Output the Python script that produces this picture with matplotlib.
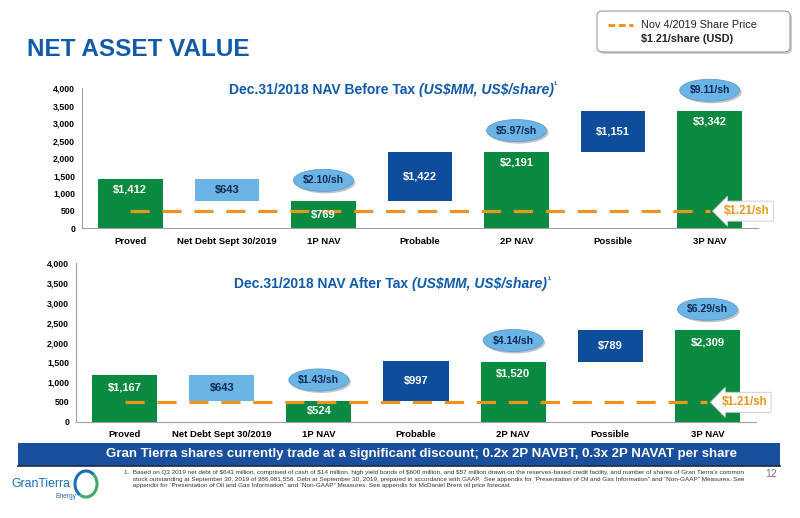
import numpy as np
import matplotlib.pyplot as plt
from matplotlib.patches import FancyBboxPatch, Ellipse, Rectangle, Arc
from matplotlib.lines import Line2D

plt.rcParams['font.family'] = ['Liberation Sans', 'DejaVu Sans']

# waterfall data (US$MM)
categories = ["Proved", "Net Debt Sept 30/2019", "1P NAV", "Probable", "2P NAV", "Possible", "3P NAV"]
kinds = ["total", "debt", "total", "add", "total", "add", "total"]
nav_before_tax = [1412, 643, 769, 1422, 2191, 1151, 3342]
nav_after_tax = [1167, 643, 524, 997, 1520, 789, 2309]
per_share_before = [None, None, 2.10, None, 5.97, None, 9.11]
per_share_after = [None, None, 1.43, None, 4.14, None, 6.29]
share_price = 1.21
share_price_level = 490   # where the price line sits on the US$MM axis
yticks = [0, 500, 1000, 1500, 2000, 2500, 3000, 3500, 4000]

GREEN = "#098A40"
DARK_BLUE = "#0E4D9C"
LIGHT_BLUE = "#6CB4E6"
ORANGE = "#E8961E"
TITLE_BLUE = "#0F5AAB"
NAVY = "#0B2A55"
colors = {"total": GREEN, "debt": LIGHT_BLUE, "add": DARK_BLUE}

fig = plt.figure(figsize=(8, 5.18), dpi=100)


def waterfall(ax, values, per_share, title_main):
    x = np.arange(len(values))
    bottoms = []
    level = 0
    for v, k in zip(values, kinds):
        if k == "total":
            bottoms.append(0)
            level = v
        elif k == "debt":
            level -= v
            bottoms.append(level)
        else:
            bottoms.append(level)
            level += v
    ax.bar(x, values, bottom=bottoms, width=0.67,
           color=[colors[k] for k in kinds], zorder=2)
    ax.set_xlim(-0.5, 6.5)
    ax.set_ylim(0, 4000)
    ax.set_yticks(yticks)
    ax.set_yticklabels([f"{t:,}" for t in yticks], fontsize=6.3, fontweight='bold')
    ax.set_xticks(x)
    ax.set_xticklabels(categories, fontsize=6.8, fontweight='bold')
    ax.tick_params(length=0, pad=5)
    ax.tick_params(axis='x', pad=6)
    for s in ["top", "right"]:
        ax.spines[s].set_visible(False)
    for s in ["left", "bottom"]:
        ax.spines[s].set_color("#A0A0A0")

    # pixel -> data conversion
    pos = ax.get_position()
    px_x = pos.width * fig.get_figwidth() * fig.dpi / 7.0
    px_y = pos.height * fig.get_figheight() * fig.dpi / 4000.0

    for xi, v, b, k in zip(x, values, bottoms, kinds):
        top = b + v
        if k == "total" and v > 1000:
            ty = top - 300
        else:
            ty = b + v / 2
        tc = NAVY if k == "debt" else "white"
        ax.text(xi, ty, f"${v:,}", ha='center', va='center', color=tc,
                fontsize=8, fontweight='bold', zorder=4, parse_math=False)

    for xi, v, b, ps in zip(x, values, bottoms, per_share):
        if ps is None:
            continue
        cy = b + v + 21 / px_y
        ax.add_patch(Ellipse((xi + 2 / px_x, cy - 2 / px_y), 60 / px_x, 22 / px_y,
                             fc="#9A9A9A", ec='none', alpha=0.6, zorder=3, clip_on=False))
        ax.add_patch(Ellipse((xi, cy), 60 / px_x, 22 / px_y, fc=LIGHT_BLUE,
                             ec="#5A9FD0", lw=0.6, zorder=4, clip_on=False))
        ax.text(xi, cy, f"${ps:.2f}/sh", ha='center', va='center', color=NAVY,
                fontsize=7.5, fontweight='bold', zorder=5, clip_on=False, parse_math=False)

    # share price line with callout arrow
    ax.plot([0, 6], [share_price_level, share_price_level], color=ORANGE, lw=2.3,
            linestyle=(0, (6, 4)), zorder=3)
    ax.text(6 + 14 / px_x, share_price_level, f"${share_price:.2f}/sh", ha='left', va='center',
            color=ORANGE, fontsize=8.3, fontweight='bold', zorder=6, clip_on=False, parse_math=False,
            bbox=dict(boxstyle="larrow,pad=0.35", fc='white', ec="#C8C8C8", lw=0.6))

    t1 = ax.text(0.5, 0.0, title_main, transform=ax.transAxes, ha='left', va='center',
                 color=TITLE_BLUE, fontsize=10, fontweight='bold')
    t2 = ax.annotate("(US$MM, US$/share)", xy=(1, 0.5), xycoords=t1, ha='left', va='center',
                     color=TITLE_BLUE, fontsize=10, fontweight='bold', fontstyle='italic',
                     parse_math=False)
    ax.annotate("\u00b9", xy=(1, 0.75), xycoords=t2, ha='left', va='center',
                color=TITLE_BLUE, fontsize=6.5, fontweight='bold')
    return t1


ax1 = fig.add_axes([0.1025, 0.5593, 0.845, 0.2703])
t = waterfall(ax1, nav_before_tax, per_share_before, "Dec.31/2018 NAV Before Tax ")
t.set_position((0.217, 0.99))

ax2 = fig.add_axes([0.095, 0.1859, 0.85, 0.3058])
t = waterfall(ax2, nav_after_tax, per_share_after, "Dec.31/2018 NAV After Tax ")
t.set_position((0.233, 0.87))

# page title
fig.text(27 / 800, 1 - 50 / 518, "NET ASSET VALUE", ha='left', va='center',
         color=TITLE_BLUE, fontsize=17.5, fontweight='bold')

# legend box
fig.patches.append(FancyBboxPatch((599 / 800, 1 - 54 / 518), 193 / 800, 41 / 518,
                                  boxstyle="round,pad=0,rounding_size=0.008",
                                  transform=fig.transFigure, fc="#B0B0B0", ec='none', alpha=0.6))
fig.patches.append(FancyBboxPatch((597 / 800, 1 - 52 / 518), 193 / 800, 41 / 518,
                                  boxstyle="round,pad=0,rounding_size=0.008",
                                  transform=fig.transFigure, fc='white', ec="#8C8C8C", lw=0.7))
fig.lines.append(Line2D([608 / 800, 633 / 800], [1 - 25 / 518, 1 - 25 / 518],
                        transform=fig.transFigure, color=ORANGE, lw=2.2, linestyle=(0, (2.2, 1.2))))
fig.text(641 / 800, 1 - 25 / 518, "Nov 4/2019 Share Price", ha='left', va='center',
         fontsize=7.8, color="#222222")
fig.text(641 / 800, 1 - 38.5 / 518, f"${share_price:.2f}/share (USD)", ha='left', va='center',
         fontsize=7.8, fontweight='bold', color="#222222", parse_math=False)

# banner
fig.patches.append(Rectangle((18 / 800, 1 - 466 / 518), 762 / 800, 23 / 518,
                             transform=fig.transFigure, fc="#1A4F9E", ec='none'))
fig.lines.append(Line2D([18 / 800, 780 / 800], [1 - 466 / 518, 1 - 466 / 518],
                        transform=fig.transFigure, color="#1C2A44", lw=1.2))
fig.text(421 / 800, 1 - 454 / 518,
         "Gran Tierra shares currently trade at a significant discount; 0.2x 2P NAVBT, 0.3x 2P NAVAT per share",
         ha='center', va='center', color='white', fontsize=9.5, fontweight='bold')

# footnote
footnote = ("1.  Based on Q3 2019 net debt of $643 million, comprised of cash of $14 million, high yield bonds of $600 million, "
            "and $57 million drawn on the reserves-based credit facility, and number of shares of Gran Tierra\u2019s common\n"
            "     stock outstanding at September 30, 2019 of 386,981,556. Debt at September 30, 2019, prepared in accordance with GAAP.  "
            "See appendix for \u201cPresentation of Oil and Gas Information\u201d and \u201cNon-GAAP\u201d Measures. See\n"
            "     appendix for \u201cPresentation of Oil and Gas Information\u201d and \u201cNon-GAAP\u201d Measures. "
            "See appendix for McDaniel Brent oil price forecast.")
fig.text(124 / 800, 1 - 470 / 518, footnote, ha='left', va='top', fontsize=4.6,
         color="#333333", linespacing=1.4, parse_math=False)
fig.text(771 / 800, 1 - 474 / 518, "12", ha='center', va='center', fontsize=7.5, color="#777777")

# logo
fig.text(11 / 800, 1 - 484 / 518, "GranTierra", ha='left', va='center', fontsize=8.8,
         color="#1B6FB5")
fig.text(55 / 800, 1 - 496 / 518, "Energy", ha='left', va='center', fontsize=4.8, color="#1B6FB5")
cx, cy = 86 / 800, 1 - 484 / 518
fig.patches.append(Arc((cx, cy), 22 / 800, 26 / 518, theta1=60, theta2=250,
                       transform=fig.transFigure, color="#1B6FB5", lw=2.2))
fig.patches.append(Arc((cx, cy), 22 / 800, 26 / 518, theta1=250, theta2=420,
                       transform=fig.transFigure, color="#3FAA6A", lw=2.2))

fig.savefig("out.png", dpi=100)
